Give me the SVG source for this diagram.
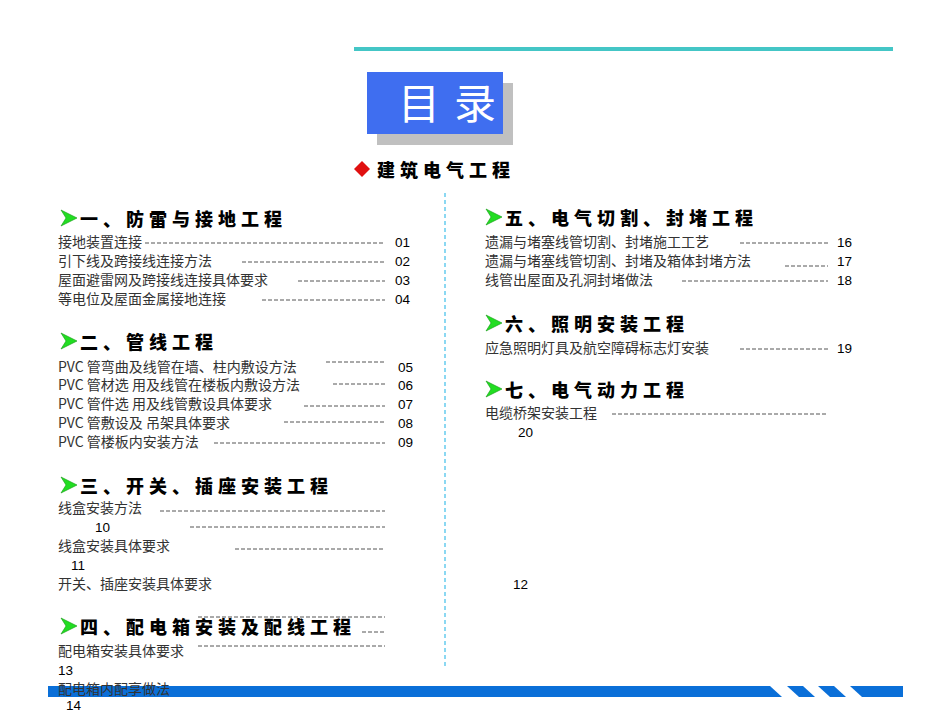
<svg xmlns="http://www.w3.org/2000/svg" width="950" height="713" viewBox="0 0 950 713">
<style>
.h{font-family:"Noto Sans CJK SC",sans-serif;font-weight:900;font-size:18px;fill:#000;letter-spacing:5px}
.t{font-family:"Noto Sans CJK SC",sans-serif;font-size:14px;fill:#333}
.n{font-family:"Liberation Sans",sans-serif;font-size:13.5px;fill:#000}
.d{stroke:#555;stroke-width:1;stroke-dasharray:4,2}
</style>
<defs>
<g id="arr"><polygon points="0,-8 16,0 0,8 5,0" fill="#22dd22" stroke="#119911" stroke-width="0.6"/></g>
</defs>
<rect width="950" height="713" fill="#fff"/>
<line x1="354" y1="49" x2="893" y2="49" stroke="#44c6c6" stroke-width="4"/>
<g id="title">
<rect x="377" y="83" width="136" height="62" fill="#c0c0c0"/>
<rect x="367" y="72" width="136" height="62" fill="#3f6ef0"/>
<text x="398" y="119" font-family="Noto Sans CJK SC,sans-serif" font-size="42" fill="#fff" letter-spacing="14">目录</text>
</g>
<g id="main">
<polygon points="362,161 370,169 362,177 354,169" fill="#e01010"/>
<text x="377" y="177" class="h" font-size="19" letter-spacing="6">建筑电气工程</text>
</g>
<line x1="445" y1="193" x2="445" y2="668" stroke="#66ccee" stroke-width="1.5" stroke-dasharray="4,3"/>
<g id="bar">
<polygon points="48,686 770,686 782,697 48,697" fill="#0a6fd8"/>
<polygon points="787,686 803,686 815,697 799,697" fill="#0a6fd8"/>
<polygon points="818,686 834,686 846,697 830,697" fill="#0a6fd8"/>
<polygon points="850,686 903,686 903,697 862,697" fill="#0a6fd8"/>
</g>
<g id="s1">
<use href="#arr" x="61" y="218"/>
<text x="80" y="226" class="h">一、防雷与接地工程</text>
<text x="58" y="247" class="t">接地装置连接</text><line x1="145" y1="243" x2="385" y2="243" class="d"/><text x="395" y="247" class="n">01</text>
<text x="58" y="266" class="t">引下线及跨接线连接方法</text><line x1="242" y1="262" x2="385" y2="262" class="d"/><text x="395" y="266" class="n">02</text>
<text x="58" y="285" class="t">屋面避雷网及跨接线连接具体要求</text><line x1="298" y1="281" x2="385" y2="281" class="d"/><text x="395" y="285" class="n">03</text>
<text x="58" y="304" class="t">等电位及屋面金属接地连接</text><line x1="262" y1="300" x2="385" y2="300" class="d"/><text x="395" y="304" class="n">04</text>
</g>
<g id="s2">
<use href="#arr" x="61" y="341"/>
<text x="80" y="349" class="h">二、管线工程</text>
<text x="58" y="372" class="t">PVC 管弯曲及线管在墙、柱内敷设方法</text><line x1="326" y1="362" x2="385" y2="362" class="d"/><text x="398" y="372" class="n">05</text>
<text x="58" y="390" class="t">PVC 管材选 用及线管在楼板内敷设方法</text><line x1="333" y1="384" x2="385" y2="384" class="d"/><text x="398" y="390" class="n">06</text>
<text x="58" y="409" class="t">PVC 管件选 用及线管敷设具体要求</text><line x1="304" y1="406" x2="385" y2="406" class="d"/><text x="398" y="409" class="n">07</text>
<text x="58" y="428" class="t">PVC 管敷设及 吊架具体要求</text><line x1="284" y1="422" x2="385" y2="422" class="d"/><text x="398" y="428" class="n">08</text>
<text x="58" y="447" class="t">PVC 管楼板内安装方法</text><line x1="214" y1="443" x2="385" y2="443" class="d"/><text x="398" y="447" class="n">09</text>
</g>
<g id="s3">
<use href="#arr" x="61" y="485"/>
<text x="80" y="493" class="h">三、开关、插座安装工程</text>
<text x="58" y="513" class="t">线盒安装方法</text><line x1="160" y1="511" x2="385" y2="511" class="d"/>
<text x="95" y="532" class="n">10</text><line x1="190" y1="527" x2="385" y2="527" class="d"/>
<text x="58" y="551" class="t">线盒安装具体要求</text><line x1="235" y1="549" x2="385" y2="549" class="d"/>
<text x="71" y="570" class="n">11</text>
<text x="58" y="589" class="t">开关、插座安装具体要求</text>
<text x="513" y="589" class="n">12</text>
</g>
<g id="s4">
<line x1="198" y1="617" x2="385" y2="617" class="d"/>
<use href="#arr" x="61" y="626"/>
<text x="80" y="634" class="h">四、配电箱安装及配线工程</text><line x1="362" y1="632" x2="385" y2="632" class="d"/>
<line x1="198" y1="646" x2="385" y2="646" class="d"/>
<text x="58" y="656" class="t">配电箱安装具体要求</text>
<text x="58" y="675" class="n">13</text>
<text x="58" y="694" class="t">配电箱内配享做法</text>
<text x="66" y="710" class="n">14</text>
</g>
<g id="s5">
<use href="#arr" x="486" y="217"/>
<text x="505" y="225" class="h">五、电气切割、封堵工程</text>
<text x="485" y="247" class="t">遗漏与堵塞线管切割、封堵施工工艺</text><line x1="740" y1="243" x2="828" y2="243" class="d"/><text x="837" y="247" class="n">16</text>
<text x="485" y="266" class="t">遗漏与堵塞线管切割、封堵及箱体封堵方法</text><line x1="785" y1="266" x2="828" y2="266" class="d"/><text x="837" y="266" class="n">17</text>
<text x="485" y="285" class="t">线管出屋面及孔洞封堵做法</text><line x1="682" y1="281" x2="828" y2="281" class="d"/><text x="837" y="285" class="n">18</text>
</g>
<g id="s6">
<use href="#arr" x="486" y="323"/>
<text x="505" y="331" class="h">六、照明安装工程</text>
<text x="485" y="353" class="t">应急照明灯具及航空障碍标志灯安装</text><line x1="740" y1="349" x2="828" y2="349" class="d"/><text x="837" y="353" class="n">19</text>
</g>
<g id="s7">
<use href="#arr" x="486" y="389"/>
<text x="505" y="397" class="h">七、电气动力工程</text>
<text x="485" y="418" class="t">电缆桥架安装工程</text><line x1="612" y1="414" x2="828" y2="414" class="d"/>
<text x="518" y="437" class="n">20</text>
</g>
</svg>
